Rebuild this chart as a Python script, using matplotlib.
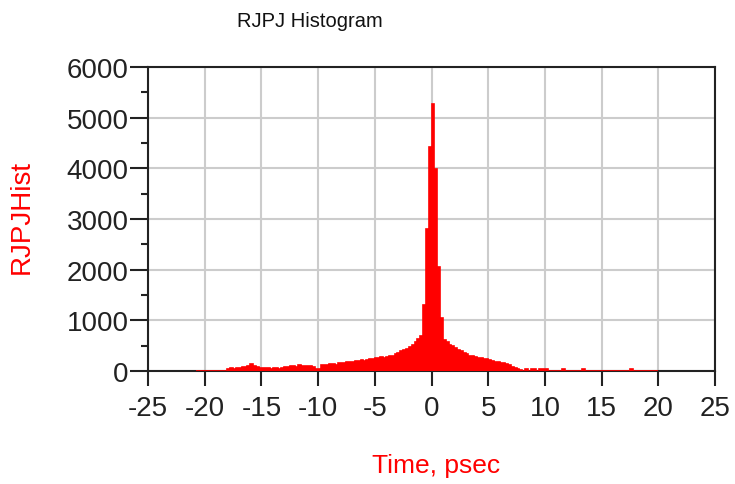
import numpy as np
import matplotlib
matplotlib.use("Agg")
import matplotlib.pyplot as plt
from matplotlib.ticker import MultipleLocator

plt.rcParams['font.family'] = ['Liberation Sans', 'DejaVu Sans']

# Histogram data (bin width 0.25 psec, first bin starts at -20.75 psec)
bin_start = -20.75
bin_width = 0.25
left_tail = [0] * 11 + [
    40, 50, 45, 55,
    60, 70, 80, 90,
    130, 100, 70, 60,
    55, 50, 60, 45, 50, 55, 40, 50,
    70, 80, 90, 100, 85, 110, 95, 100, 90, 105, 80,
    40, 35,
    110, 120, 115, 130, 140, 125, 150, 155,
    160, 170, 180, 175, 190, 200, 210, 205, 220, 240,
    245, 250, 260, 270, 265, 280, 290, 300, 340, 360,
    390, 410, 440, 480, 520,
]
peak = [570, 640, 700, 1300, 2800, 4420, 5270, 3980, 2050, 1050, 620, 580]
right_tail = [
    520, 490, 450, 420,
    390, 360, 330,
    300, 290, 270, 260, 250, 240, 230,
    215, 200, 185, 170, 160, 150,
    140, 110, 80, 55, 35, 20,
    0,
    35, 0, 30, 40, 0, 35, 30, 40,
]
far_right = [0, 0, 0, 0, 0, 45, 0, 0, 0, 0, 0, 0, 45, 0, 0, 0, 0, 0, 0, 0,
             0, 0, 0, 0, 0, 0, 0, 0, 0, 45, 0, 0, 0, 0, 0, 0, 0, 0, 0]

counts = np.array(left_tail + peak + right_tail + far_right, dtype=float)
edges = bin_start + bin_width * np.arange(len(counts) + 1)

x_ticks = [-25, -20, -15, -10, -5, 0, 5, 10, 15, 20, 25]
y_ticks = [0, 1000, 2000, 3000, 4000, 5000, 6000]

fig = plt.figure(figsize=(7.35, 4.85), dpi=100)
ax = fig.add_axes([0.2014, 0.233, 0.7714, 0.627])

ax.stairs(counts, edges, fill=True, color='#ff0000', linewidth=0, zorder=3)
ax.stairs(counts, edges, fill=False, color='#ff0000', linewidth=1.2, zorder=4)

ax.set_xlim(-25, 25)
ax.set_ylim(0, 6000)
ax.set_xticks(x_ticks)
ax.set_xticklabels([str(t) for t in x_ticks])
ax.set_yticks(y_ticks)
ax.set_yticklabels([str(t) for t in y_ticks])
ax.yaxis.set_minor_locator(MultipleLocator(500))

ax.grid(True, which='major', color='#cccccc', linewidth=1.5, zorder=0)
ax.set_axisbelow(True)
for s in ax.spines.values():
    s.set_color('#222222')
    s.set_linewidth(1.5)
    s.set_zorder(2)

ax.tick_params(axis='x', which='major', direction='out', length=11, width=1.5,
               pad=6, labelsize=20, colors='#222222')
ax.tick_params(axis='y', which='major', direction='out', length=13, width=1.5,
               pad=1, labelsize=20, colors='#222222')
ax.tick_params(axis='y', which='minor', direction='out', length=5, width=1.5,
               colors='#222222')

fig.text(0.422, 0.955, 'RJPJ Histogram', ha='center', va='center', fontsize=14.5,
         color='#111111')
fig.text(0.593, 0.04, 'Time, psec', ha='center', va='center', fontsize=19,
         color='#ff0000')
fig.text(0.03, 0.553, 'RJPJHist', ha='center', va='center', fontsize=20,
         color='#ff0000', rotation=90)

fig.savefig('out.png', dpi=100)
